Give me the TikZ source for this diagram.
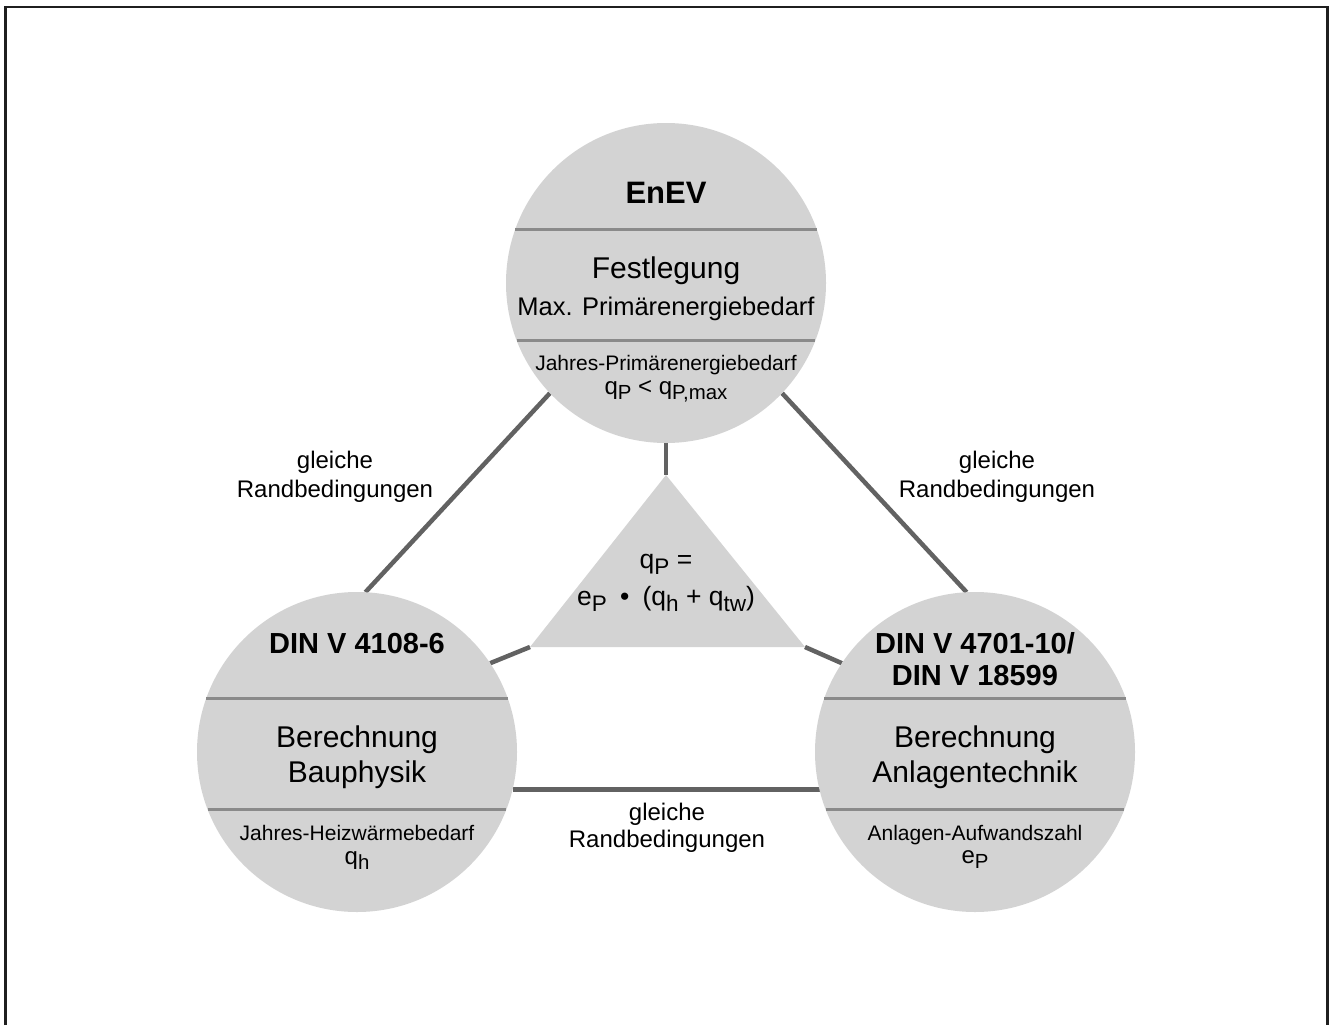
\documentclass[tikz,border=0pt]{standalone}
\usepackage{fontspec}
\setmainfont{Liberation Sans}
\usepackage{graphicx}
\usetikzlibrary{backgrounds}

\definecolor{kreisgrau}{RGB}{211,211,211}
\definecolor{liniengrau}{RGB}{98,98,98}
\definecolor{trenngrau}{RGB}{138,138,138}

\newcommand{\idx}[1]{\raisebox{-0.24em}{\scalebox{0.85}{#1}}}

\tikzset{
  kreis/.style={circle, fill=kreisgrau, minimum size=320pt, inner sep=0pt, outer sep=0pt},
  verbindung/.style={color=liniengrau, line width=4.5pt},
  trennlinie/.style={color=trenngrau, line width=3pt},
  titel/.style={anchor=base, inner sep=0pt, font=\bfseries\fontsize{29}{34}\selectfont},
  haupt/.style={anchor=base, inner sep=0pt, font=\fontsize{30}{36}\selectfont},
  mittel/.style={anchor=base, inner sep=0pt, font=\fontsize{25.5}{30}\selectfont},
  klein/.style={anchor=base, inner sep=0pt, font=\fontsize{21}{25}\selectfont},
  groesse/.style={anchor=base, inner sep=0pt, font=\fontsize{24}{29}\selectfont},
  rand/.style={anchor=base, inner sep=0pt, font=\fontsize{24}{29}\selectfont},
  formeltext/.style={anchor=base, inner sep=0pt, font=\fontsize{26.5}{31}\selectfont},
}

\begin{document}
\begin{tikzpicture}[%
      x=1pt, y=-1pt,
      ]
      \useasboundingbox (0,0) rectangle (1335,1025);
      \draw [color=black!88, line width=2.8pt] (5.5,1025) -- (5.5,7) -- (1327.3,7) -- (1327.3,1025);

      \node [kreis] (enev) at (666,283) {};
      \node [kreis] (din4108) at (357,752) {};
      \node [kreis] (din4701) at (975,752) {};

      \coordinate (spitze) at (666,475);
      \coordinate (links) at (530,647);
      \coordinate (rechts) at (805,647);
      \fill [kreisgrau] (spitze) -- (links) -- (rechts) -- cycle;

      % y zeigt nach unten: Winkel im Uhrzeigersinn
      \foreach \k in {enev,din4108,din4701} {
        \draw [trennlinie] ([shift={(199.5:160)}]\k.center) -- ([shift={(-19.5:160)}]\k.center);
        \draw [trennlinie] ([shift={(159:160)}]\k.center) -- ([shift={(21:160)}]\k.center);
      }

      \begin{scope}[on background layer]
        \draw [verbindung] ([shift={(136.5:160)}]enev.center) -- ([shift={(-87:160)}]din4108.center);
        \draw [verbindung] ([shift={(43.5:160)}]enev.center) -- ([shift={(-93:160)}]din4701.center);
        \draw [verbindung] ([shift={(13.6:160)}]din4108.center) -- ([shift={(166.4:160)}]din4701.center);
        \draw [verbindung] (enev.south) -- (spitze);
        \draw [verbindung] (links) -- ([shift={(-33.7:160)}]din4108.center);
        \draw [verbindung] (rechts) -- ([shift={(-146.3:160)}]din4701.center);
      \end{scope}

      \node [titel, font=\bfseries\fontsize{31}{36}\selectfont] (enevtitel) at (666,203) {EnEV};
      \node [haupt] (festlegung) at (666,278) {Festlegung};
      \node [mittel] (maxbedarf) at (666,315) {Max. Primärenergiebedarf};
      \node [klein] (primaerbedarf) at (666,370) {Jahres-Primärenergiebedarf};
      \node [groesse] (qpmax) at (666,394) {q\idx{P} < q\idx{P,max}};

      \node [titel] (din4108titel) at (357,653) {DIN V 4108-6};
      \node [haupt] (berechnunglinks) at (357,747) {Berechnung};
      \node [haupt] (bauphysik) at (357,782) {Bauphysik};
      \node [klein] (heizbedarf) at (357,840) {Jahres-Heizwärmebedarf};
      \node [groesse] (qh) at (357,864) {q\idx{h}};

      \node [titel] (din4701titel) at (975,653) {DIN V 4701-10/};
      \node [titel] (din18599titel) at (975,685) {DIN V 18599};
      \node [haupt] (berechnungrechts) at (975,747) {Berechnung};
      \node [haupt] (anlagentechnik) at (975,782) {Anlagentechnik};
      \node [klein] (aufwandszahl) at (975,840) {Anlagen-Aufwandszahl};
      \node [groesse] (ep) at (975,863) {e\idx{P}};

      \node [formeltext] (qpgleich) at (666,568) {q\idx{P} =};
      \node [formeltext] (formel) at (666,605) {e\idx{P}\enspace\textbullet\enspace(q\idx{h} + q\idx{tw})};

      \node [rand] (gleichelinks) at (335,468) {gleiche};
      \node [rand] (randlinks) at (335,497) {Randbedingungen};
      \node [rand] (gleicherechts) at (997,468) {gleiche};
      \node [rand] (randrechts) at (997,497) {Randbedingungen};
      \node [rand] (gleicheunten) at (667,820) {gleiche};
      \node [rand] (randunten) at (667,847) {Randbedingungen};
\end{tikzpicture}
\end{document}
